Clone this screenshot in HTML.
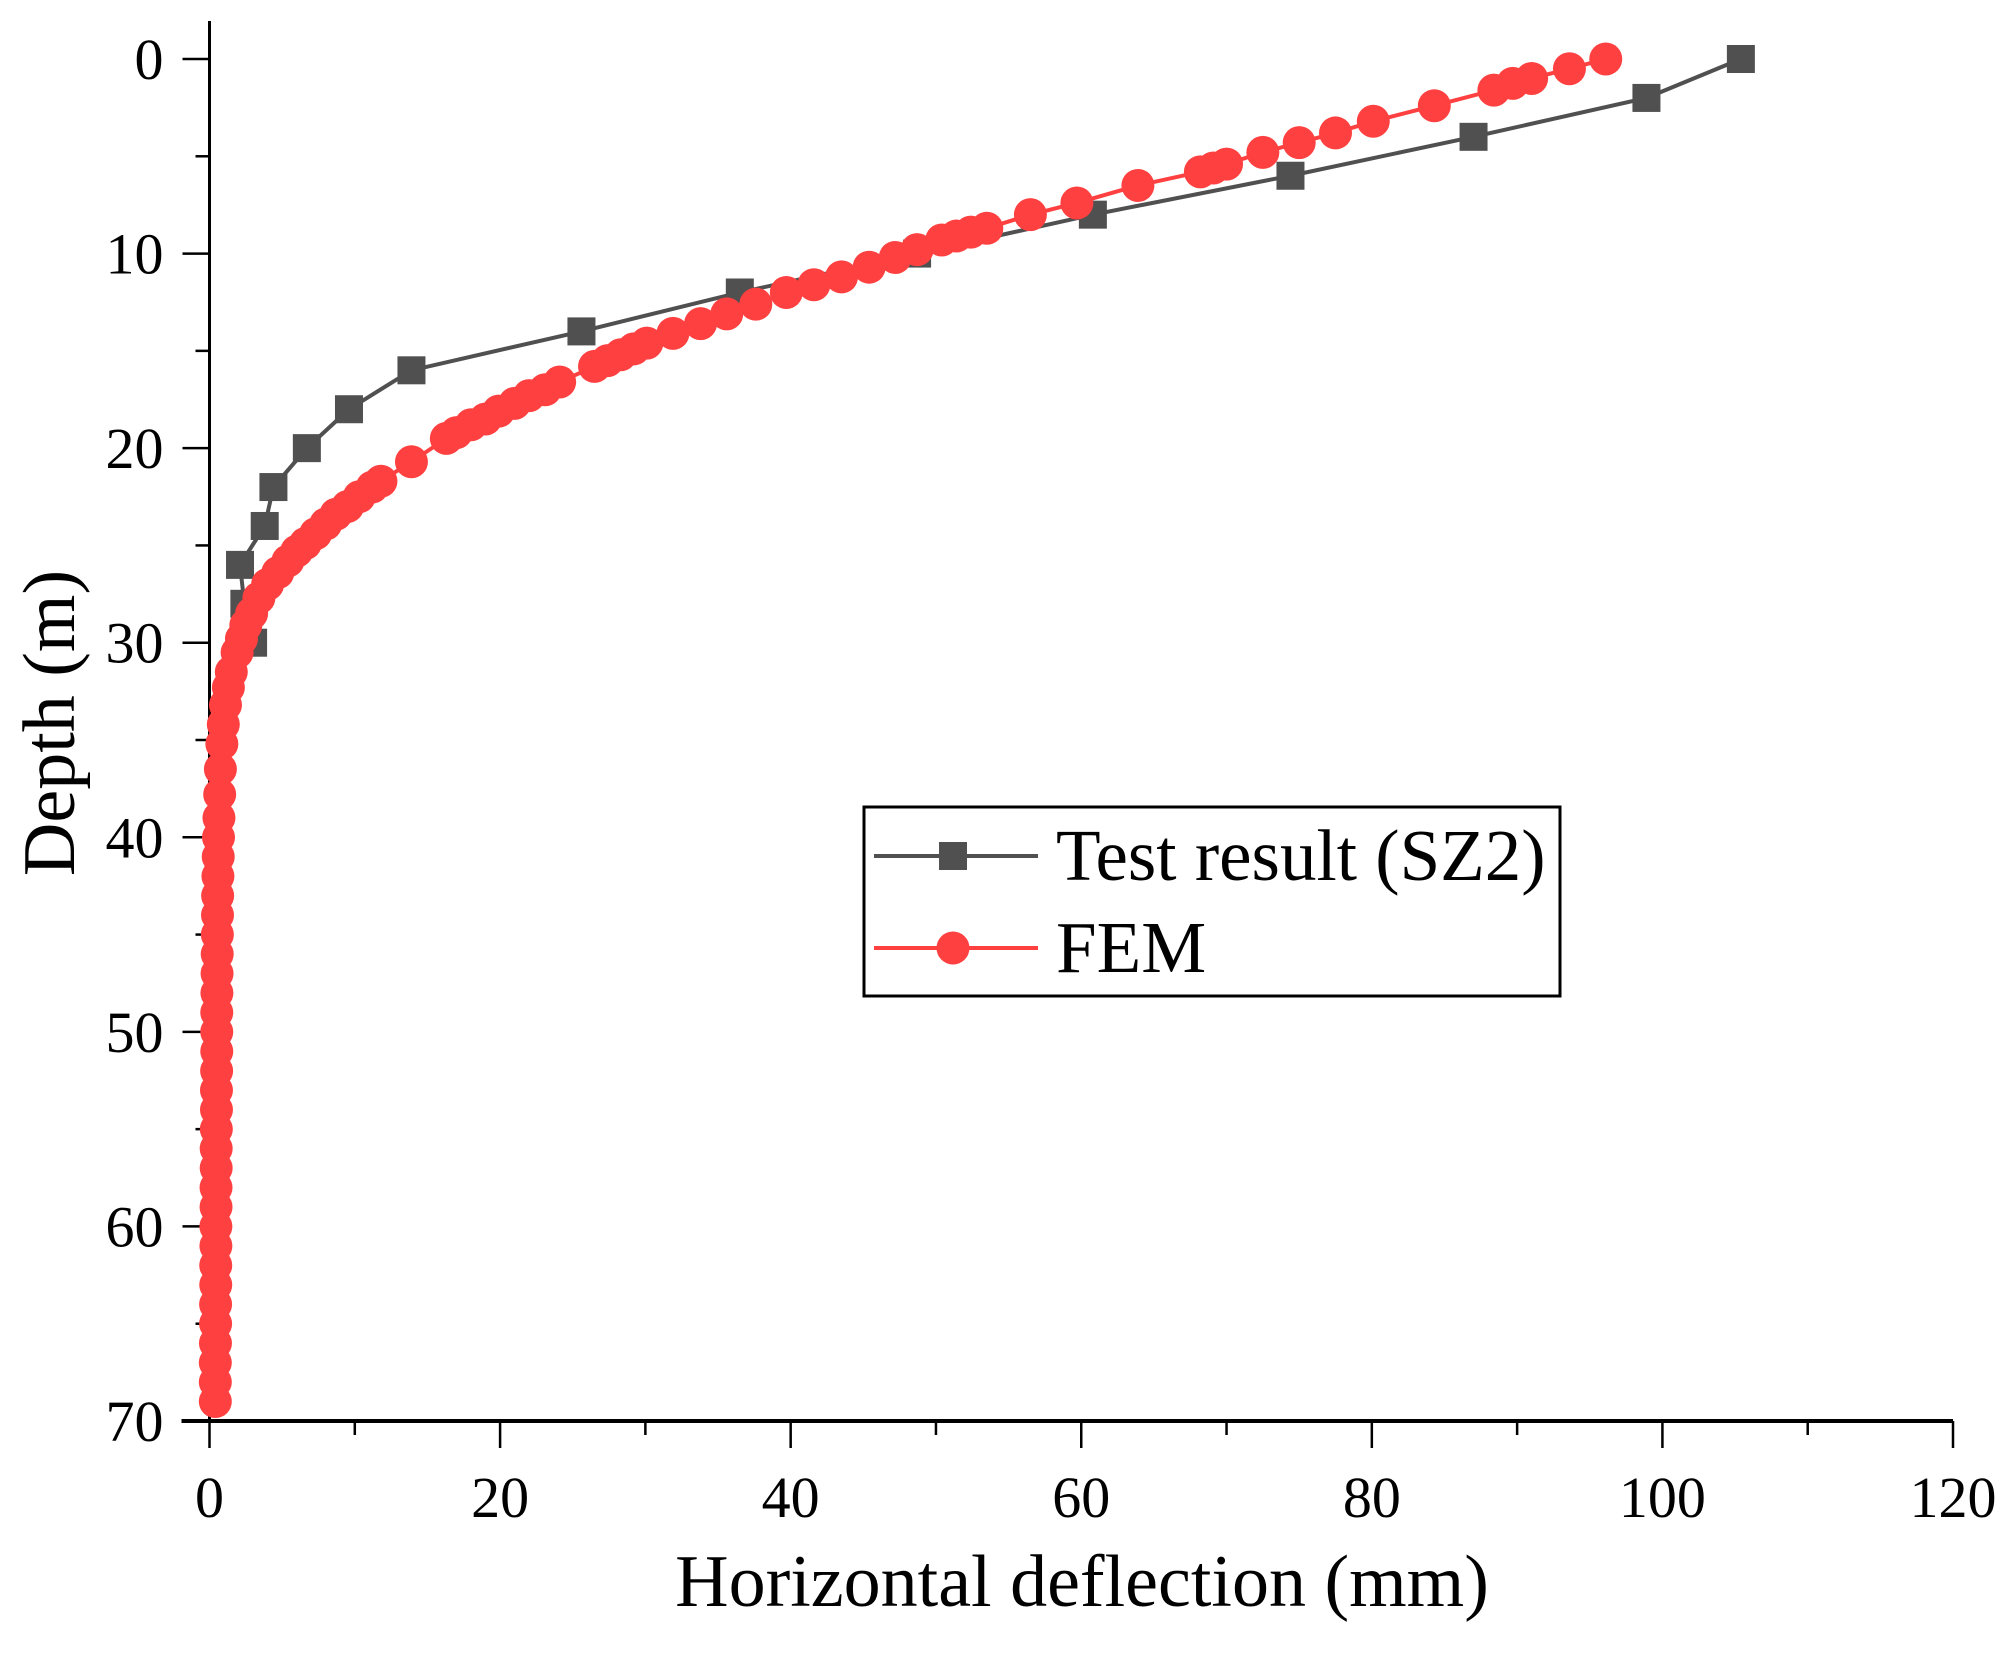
<!DOCTYPE html>
<html><head><meta charset="utf-8"><style>
body{margin:0;background:#fff}
svg text{font-family:"Liberation Serif",serif;fill:#000}
</style></head><body>
<svg id="c" width="2015" height="1668" xmlns="http://www.w3.org/2000/svg"></svg>
<script>
const xTicks=[0,20,40,60,80,100,120];
const yTicks=[0,10,20,30,40,50,60,70];
const testDepth=[0,2,4,6,8,10,12,14,16,18,20,22,24,26,28,30];
const testDefl=[105.4,98.9,87,74.4,60.8,48.7,36.5,25.6,13.9,9.6,6.7,4.4,3.8,2.1,2.4,3.0];
const femDepth=[0,0.5,1,1.25,1.6,2.4,3.2,3.8,4.3,4.8,5.4,5.6,5.8,6.5,7.4,8.0,8.7,8.9,9.1,9.3,9.8,10.2,10.7,11.2,11.6,12.0,12.6,13.1,13.6,14.1,14.6,14.9,15.2,15.5,15.8,16.6,17.0,17.3,17.7,18.1,18.5,18.8,19.2,19.5,20.7,21.7,22.0,22.5,23.0,23.4,23.9,24.4,24.9,25.3,25.8,26.4,27.0,27.7,28.5,29.1,29.8,30.5,31.5,32.3,33.2,34.2,35.2,36.5,37.8,39,40,41,42,43,44,45,46,47,48,49,50,51,52,53,54,55,56,57,58,59,60,61,62,63,64,65,66,67,68,69];
const femDefl=[96.1,93.6,91,89.7,88.4,84.3,80.1,77.5,75,72.5,70,69.1,68.2,63.9,59.7,56.5,53.5,52.4,51.4,50.4,48.7,47.2,45.4,43.5,41.6,39.7,37.6,35.6,33.8,31.9,30.1,29.2,28.3,27.4,26.5,24.1,23.1,22,21,19.9,19,18,17,16.3,13.9,11.8,11.2,10.3,9.5,8.7,8,7.3,6.6,6,5.4,4.7,4.0,3.4,2.9,2.5,2.2,1.9,1.5,1.3,1.1,0.95,0.85,0.75,0.7,0.65,0.62,0.6,0.58,0.56,0.55,0.54,0.53,0.52,0.51,0.5,0.5,0.5,0.49,0.48,0.48,0.47,0.46,0.46,0.45,0.45,0.44,0.44,0.43,0.43,0.42,0.42,0.41,0.4,0.4,0.4];
const NS="http://www.w3.org/2000/svg",svg=document.getElementById('c');
const X0=209.5,X1=1953,Y0=59,Y1=1421;
const xs=v=>X0+(v/120)*(X1-X0), ys=v=>Y0+(v/70)*(Y1-Y0);
function mk(t,a,p){const e=document.createElementNS(NS,t);for(const k in a)e.setAttribute(k,a[k]);(p||svg).appendChild(e);return e;}
let ax=mk('g',{});


mk('line',{x1:X0,y1:21,x2:X0,y2:Y1,stroke:'#000','stroke-width':3},ax);
mk('line',{x1:X0-28,y1:Y1,x2:X1,y2:Y1,stroke:'#000','stroke-width':4},ax);
for(let v=0;v<=120;v+=10){const big=v%20==0;mk('line',{x1:xs(v),y1:Y1,x2:xs(v),y2:Y1+(big?27:14),stroke:'#000','stroke-width':2.5},ax);}
for(let v=0;v<=70;v+=5){const big=v%10==0;mk('line',{x1:X0,y1:ys(v),x2:X0-(big?27:14),y2:ys(v),stroke:'#000','stroke-width':2.5},ax);}
xTicks.forEach(v=>{const t=mk('text',{x:xs(v),y:Y1+96,'text-anchor':'middle','font-size':58},ax);t.textContent=v;
});
yTicks.forEach(v=>{const t=mk('text',{x:X0-46,y:ys(v)+20,'text-anchor':'end','font-size':58},ax);t.textContent=v;
});
let xt=mk('text',{x:1082,y:1606,'text-anchor':'middle','font-size':74});xt.textContent='Horizontal deflection (mm)';

let yt=mk('text',{x:0,y:0,'text-anchor':'middle','font-size':74,transform:'translate(74,723) rotate(-90)'});yt.textContent='Depth (m)';

let g1=mk('g',{});


mk('polyline',{points:testDepth.map((d,i)=>xs(testDefl[i])+','+ys(d)).join(' '),fill:'none',stroke:'#505050','stroke-width':4},g1);
testDepth.forEach((d,i)=>{const r=mk('rect',{x:xs(testDefl[i])-14,y:ys(d)-14,width:28,height:28,fill:'#505050'},g1);
});
let g2=mk('g',{});


mk('polyline',{points:femDepth.map((d,i)=>xs(femDefl[i])+','+ys(d)).join(' '),fill:'none',stroke:'#ff4040','stroke-width':4},g2);
femDepth.forEach((d,i)=>{const c=mk('circle',{cx:xs(femDefl[i]),cy:ys(d),r:16.5,fill:'#ff4040'},g2);
});
</script>
<svg style="position:absolute;left:0;top:0" width="2015" height="1668">
<rect x="864" y="807" width="696" height="189" fill="#fff" stroke="#000" stroke-width="3"/>
<g>
<line x1="874" y1="856" x2="1038" y2="856" stroke="#505050" stroke-width="4"/>
<rect x="939" y="842" width="28" height="28" fill="#505050"/>
<text x="1056" y="880" font-size="73" font-family="Liberation Serif,serif">Test result (SZ2)</text>
</g>
<g>
<line x1="874" y1="948" x2="1038" y2="948" stroke="#ff4040" stroke-width="4"/>
<circle cx="953" cy="948" r="16.5" fill="#ff4040"/>
<text x="1056" y="972" font-size="73" font-family="Liberation Serif,serif">FEM</text>
</g>
</svg>
</body></html>
